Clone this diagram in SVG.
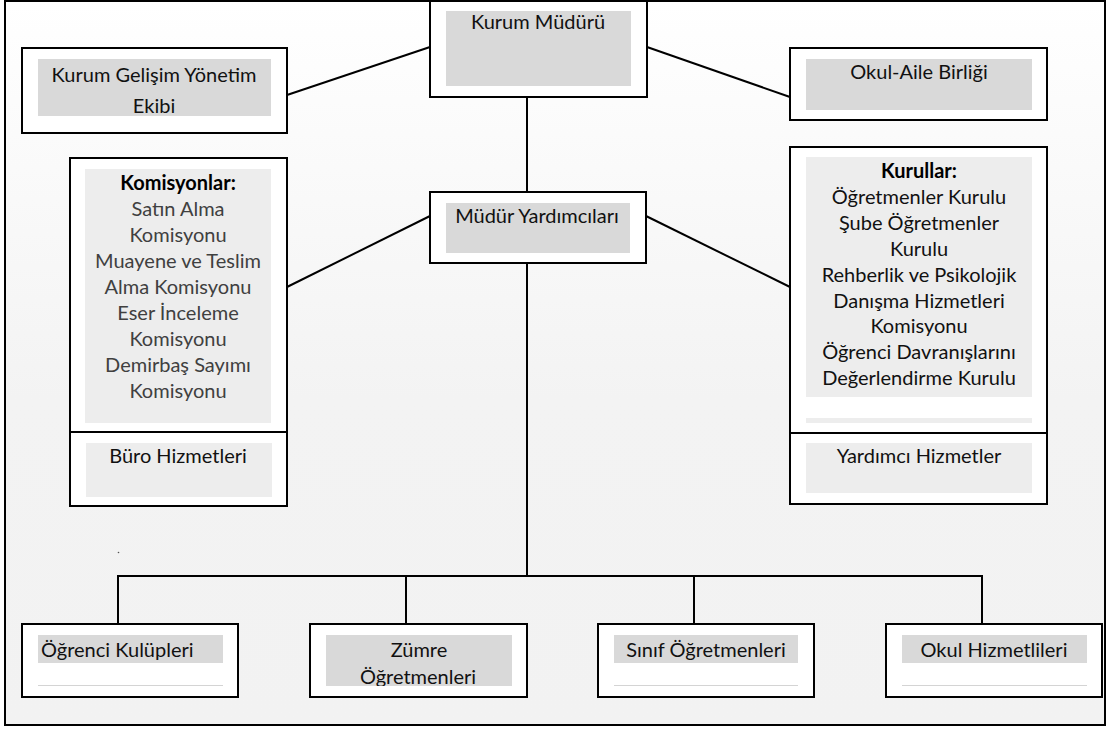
<svg xmlns="http://www.w3.org/2000/svg" width="1108" height="729" viewBox="0 0 1108 729">
<defs>
<linearGradient id="bg" x1="0" y1="0" x2="0" y2="1">
<stop offset="0" stop-color="#ffffff"/>
<stop offset="0.55" stop-color="#f3f3f3"/>
<stop offset="1" stop-color="#f2f2f2"/>
</linearGradient>
<clipPath id="clipZ"><rect x="326" y="635" width="186" height="51"/></clipPath>
</defs>
<style>
.box{fill:#ffffff;stroke:#000000;stroke-width:2}
.g1{fill:#d9d9d9}
.g2{fill:#ededed}
.t{font-family:Lato,"Noto Sans",sans-serif;font-size:20px;fill:#111111;text-anchor:middle}
.tl{text-anchor:start}
.gr{fill:#404040}
.b{font-weight:bold;fill:#000000}
.conn{stroke:#000000;stroke-width:2;fill:none}
.thin{stroke:#d4d4d4;stroke-width:1}
</style>
<rect x="0" y="0" width="1108" height="729" fill="#ffffff"/>
<rect id="frame" x="5" y="1" width="1100" height="724" fill="url(#bg)" stroke="#000000" stroke-width="2"/>
<circle cx="118.5" cy="552.5" r="0.8" fill="#555555"/>

<g id="connectors">
<line class="conn" x1="287" y1="95" x2="430" y2="47"/>
<line class="conn" x1="647" y1="47" x2="790" y2="97"/>
<line class="conn" x1="527" y1="97" x2="527" y2="192"/>
<line class="conn" x1="287" y1="287" x2="430" y2="216"/>
<line class="conn" x1="646" y1="216" x2="790" y2="287"/>
<line class="conn" x1="527" y1="263" x2="527" y2="576"/>
<polyline class="conn" points="118,624 118,576 982,576 982,624"/>
<line class="conn" x1="406" y1="576" x2="406" y2="624"/>
<line class="conn" x1="694" y1="576" x2="694" y2="624"/>
</g>

<g id="kurum-muduru">
<rect class="box" x="430" y="1" width="217" height="96"/>
<rect class="g1" x="446" y="11" width="185" height="75"/>
<text class="t" x="538" y="29">Kurum Müdürü</text>
</g>

<g id="kurum-gelisim">
<rect class="box" x="22" y="48" width="265" height="85"/>
<rect class="g1" x="38" y="59" width="233" height="57"/>
<text class="t" x="154" y="82">Kurum Gelişim Yönetim</text>
<text class="t" x="154" y="113">Ekibi</text>
</g>

<g id="okul-aile">
<rect class="box" x="790" y="48" width="257" height="72"/>
<rect class="g1" x="806" y="59" width="226" height="51"/>
<text class="t" x="919" y="79">Okul-Aile Birliği</text>
</g>

<g id="mudur-yardimcilari">
<rect class="box" x="430" y="192" width="216" height="71"/>
<rect class="g1" x="446" y="203" width="184" height="50"/>
<text class="t" x="537" y="223">Müdür Yardımcıları</text>
</g>

<g id="komisyonlar">
<rect class="box" x="70" y="158" width="217" height="274"/>
<rect class="g2" x="85" y="169" width="186" height="254"/>
<text class="t b" x="178" y="190">Komisyonlar:</text>
<text class="t gr" x="178" y="216">Satın Alma</text>
<text class="t gr" x="178" y="242">Komisyonu</text>
<text class="t gr" x="178" y="268">Muayene ve Teslim</text>
<text class="t gr" x="178" y="294">Alma Komisyonu</text>
<text class="t gr" x="178" y="320">Eser İnceleme</text>
<text class="t gr" x="178" y="346">Komisyonu</text>
<text class="t gr" x="178" y="372">Demirbaş Sayımı</text>
<text class="t gr" x="178" y="398">Komisyonu</text>
</g>

<g id="buro-hizmetleri">
<rect class="box" x="70" y="432" width="217" height="74"/>
<rect class="g2" x="86" y="443" width="186" height="54"/>
<text class="t" x="178" y="463">Büro Hizmetleri</text>
</g>

<g id="kurullar">
<rect class="box" x="790" y="147" width="257" height="286"/>
<rect class="g2" x="806" y="157" width="226" height="240"/>
<rect class="g2" x="806" y="418" width="226" height="5"/>
<text class="t b" x="919" y="178">Kurullar:</text>
<text class="t" x="919" y="204">Öğretmenler Kurulu</text>
<text class="t" x="919" y="230">Şube Öğretmenler</text>
<text class="t" x="919" y="256">Kurulu</text>
<text class="t" x="919" y="282">Rehberlik ve Psikolojik</text>
<text class="t" x="919" y="308">Danışma Hizmetleri</text>
<text class="t" x="919" y="333">Komisyonu</text>
<text class="t" x="919" y="359">Öğrenci Davranışlarını</text>
<text class="t" x="919" y="385">Değerlendirme Kurulu</text>
</g>

<g id="yardimci-hizmetler">
<rect class="box" x="790" y="433" width="257" height="71"/>
<rect class="g2" x="806" y="443" width="226" height="50"/>
<text class="t" x="919" y="463">Yardımcı Hizmetler</text>
</g>

<g id="ogrenci-kulupleri">
<rect class="box" x="22" y="624" width="216" height="73"/>
<rect class="g1" x="38" y="635" width="185" height="28"/>
<line class="thin" x1="38" y1="685.5" x2="223" y2="685.5"/>
<text class="t tl" x="41" y="657">Öğrenci Kulüpleri</text>
</g>

<g id="zumre-ogretmenleri">
<rect class="box" x="310" y="624" width="217" height="73"/>
<rect class="g1" x="326" y="635" width="186" height="51"/>
<g clip-path="url(#clipZ)">
<text class="t" x="419" y="657">Zümre</text>
<text class="t" x="418" y="684">Öğretmenleri</text>
</g>
</g>

<g id="sinif-ogretmenleri">
<rect class="box" x="598" y="624" width="216" height="73"/>
<rect class="g1" x="614" y="635" width="184" height="28"/>
<line class="thin" x1="614" y1="685.5" x2="798" y2="685.5"/>
<text class="t" x="706" y="657">Sınıf Öğretmenleri</text>
</g>

<g id="okul-hizmetlileri">
<rect class="box" x="886" y="624" width="216" height="73"/>
<rect class="g1" x="902" y="635" width="185" height="28"/>
<line class="thin" x1="902" y1="685.5" x2="1087" y2="685.5"/>
<text class="t" x="994" y="657">Okul Hizmetlileri</text>
</g>
</svg>
